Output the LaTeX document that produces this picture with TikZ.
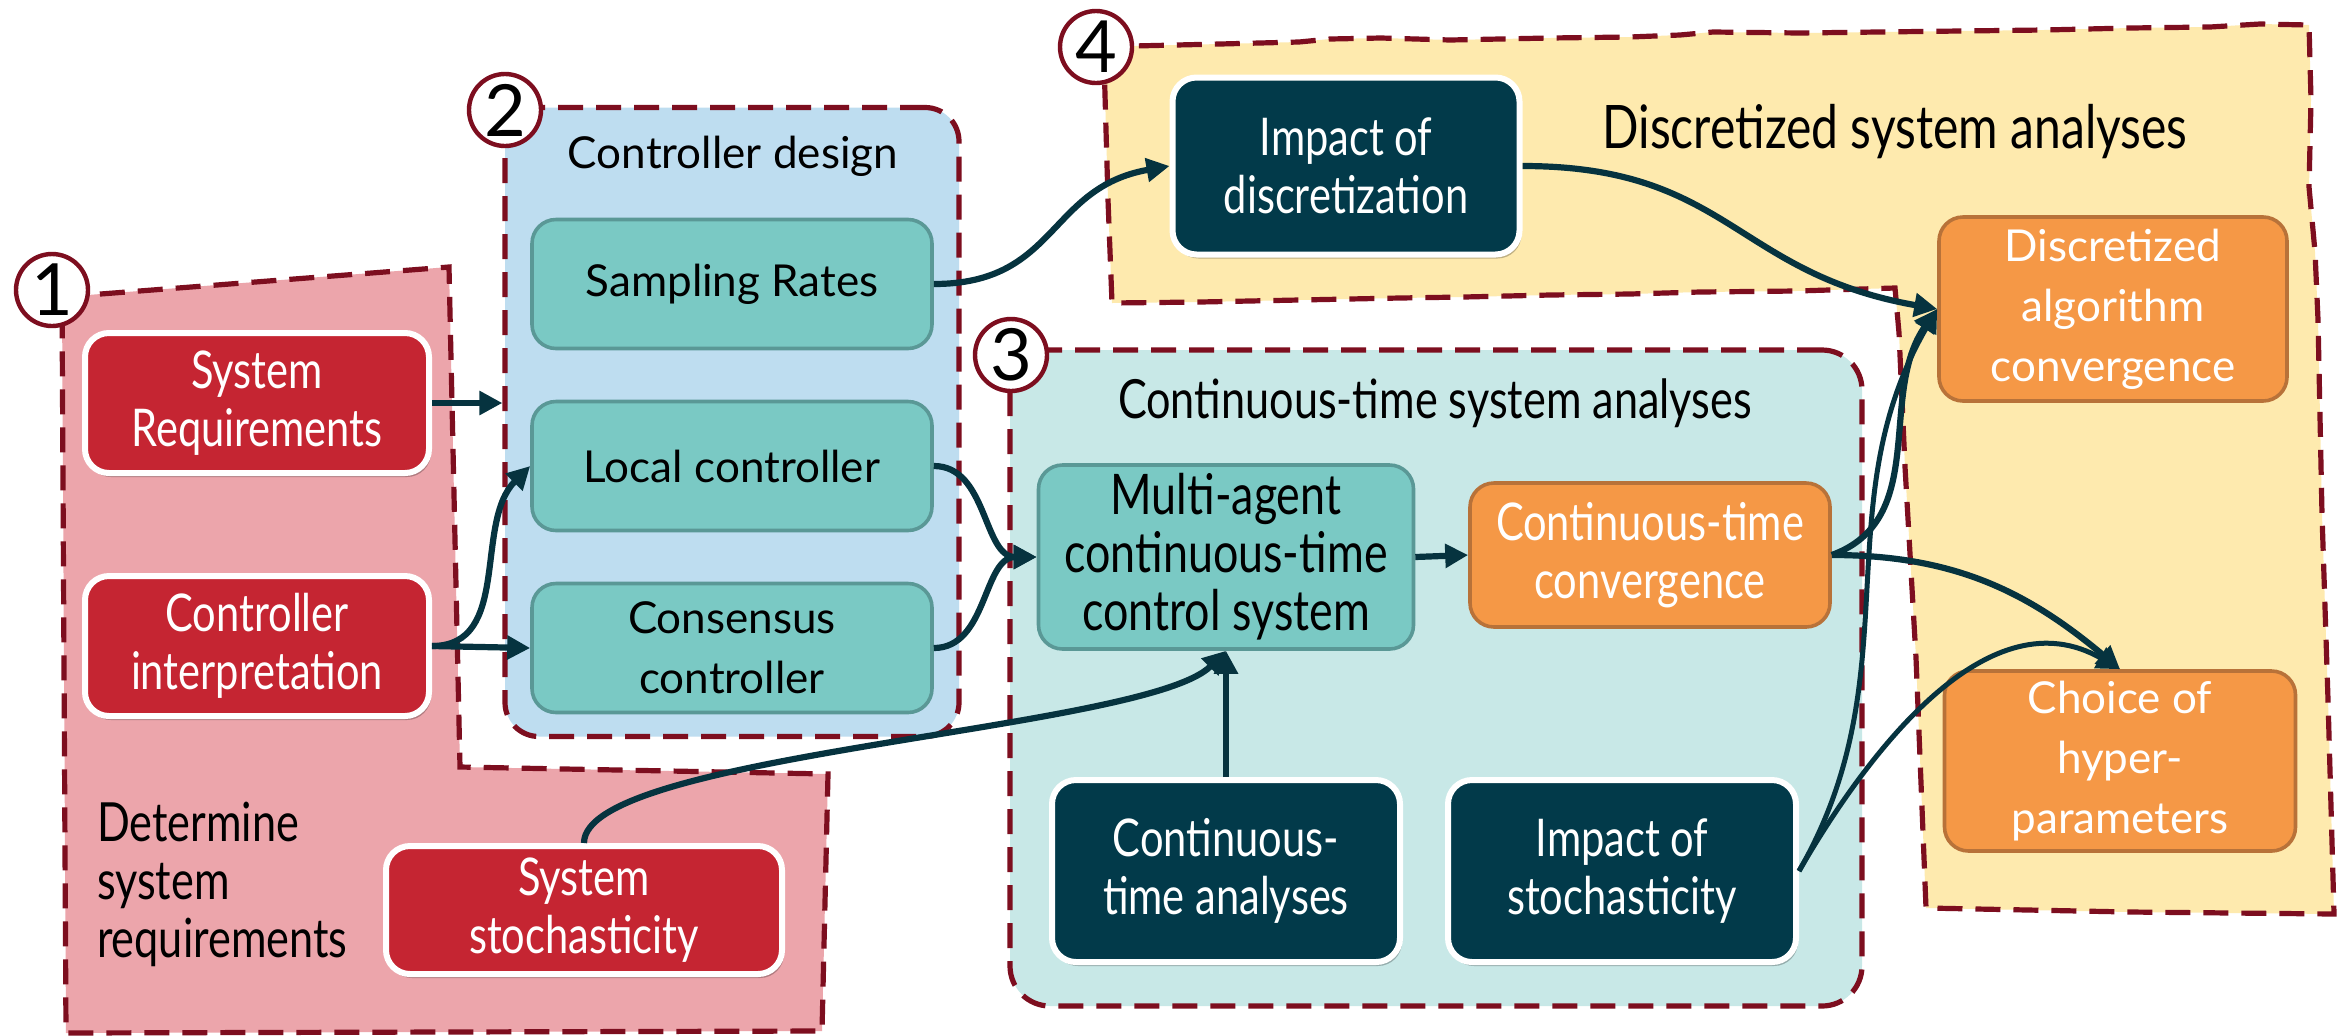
\documentclass[tikz,border=0pt]{standalone}
\usepackage{fontspec}
\setmainfont{Lato}
\newfontfamily\rfont{Lato}
\newfontfamily\cfont[FakeStretch=0.8]{Lato}
\usetikzlibrary{arrows.meta,shadows}
\definecolor{redfill}{HTML}{C52532}
\definecolor{pinkbg}{HTML}{ECA5AB}
\definecolor{bluebg}{HTML}{BEDDF0}
\definecolor{tealfill}{HTML}{7AC9C4}
\definecolor{tealdraw}{HTML}{5A9896}
\definecolor{regthreebg}{HTML}{C8E8E7}
\definecolor{darkfill}{HTML}{023A4A}
\definecolor{orangefill}{HTML}{F59846}
\definecolor{orangedraw}{HTML}{B87239}
\definecolor{yellowbg}{HTML}{FEEAAE}
\definecolor{maroon}{HTML}{7D0E1F}
\definecolor{arrowc}{HTML}{06333F}
\begin{document}
\begin{tikzpicture}[x=0.5pt,y=-0.5pt,
  region/.style={draw=maroon, line width=2.6pt, dash pattern=on 12.5pt off 6.5pt},
  box/.style={rounded corners=12pt, align=center, inner sep=0pt},
  shad/.style={drop shadow={shadow xshift=1pt, shadow yshift=-2pt, opacity=0.25, fill=black}},
  redbox/.style={box, shad, fill=redfill, draw=white, line width=3pt, text=white, font=\cfont\fontsize{26}{29}\selectfont},
  darkbox/.style={box, shad, fill=darkfill, draw=white, line width=3pt, text=white, font=\cfont\fontsize{26}{29}\selectfont},
  tealbox/.style={box, fill=tealfill, draw=tealdraw, line width=1.8pt, text=black, font=\rfont\fontsize{22}{30}\selectfont},
  tealboxc/.style={tealbox, font=\cfont\fontsize{28}{29}\selectfont},
  orangebox/.style={box, fill=orangefill, draw=orangedraw, line width=1.8pt, text=white, font=\rfont\fontsize{22}{30}\selectfont},
  orangeboxc/.style={orangebox, font=\cfont\fontsize{26}{29}\selectfont},
  circ/.style={circle, draw=maroon, fill=white, line width=2.2pt, minimum size=36pt, inner sep=0pt, font=\rfont\fontsize{36}{36}\selectfont},
  title/.style={font=\cfont\fontsize{27}{29}\selectfont, text=black},
  arr/.style={draw=arrowc, line width=3.1pt, -{Triangle[length=11.5pt,width=11.5pt]}}
]
\useasboundingbox (0,0) rectangle (2349,1035);
\fill[white] (0,0) rectangle (2349,1035);

% region 1
\draw[region, fill=pinkbg] (62,297) -- (449,267) -- (460,767) -- (828,774) -- (822,1031) -- (66,1033) -- cycle;
% region 4
\draw[region, fill=yellowbg] (1104,60) -- (1133,46) -- (1220,44) -- (1299,42) -- (1330,39) -- (1381,38) -- (1450,40) -- (1550,38) -- (1630,37) -- (1680,35) -- (1713,32) -- (1800,33) -- (1878,32) -- (1960,31) -- (2044,30) -- (2130,28) -- (2210,27) -- (2260,24) -- (2309,25)
  -- (2311,100) -- (2309,187) -- (2315,252) -- (2318,320) -- (2322,515) -- (2328,700) -- (2334,914)
  -- (2130,912) -- (1926,908)
  -- (1916,658) -- (1905,467) -- (1899,333) -- (1895,288)
  -- (1796,291) -- (1700,292) -- (1630,294) -- (1550,295) -- (1464,297) -- (1400,298) -- (1299,300) -- (1200,302) -- (1112,303)
  -- (1108,200) -- cycle;
% region 2 and 3
\node[region, fill=bluebg, rounded corners=17pt, minimum width=227pt, minimum height=314.5pt] (reg2) at (732,422) {};
\node[region, fill=regthreebg, rounded corners=20pt, minimum width=426pt, minimum height=328pt] (reg3) at (1436,678) {};

% circles
\node[circ] (c1) at (52,290) {1};
\node[circ] (c2) at (505,110) {2};
\node[circ] (c3) at (1011,355) {3};
\node[circ] (c4) at (1096,47) {4};

% titles
\node[title, font=\rfont\fontsize{22}{29}\selectfont] (t2) at (733,156) {Controller design};
\node[title] (t3) at (1435,403) {Continuous-time system analyses};
\node[title, font=\cfont\fontsize{30}{29}\selectfont] (t4) at (1895,132) {Discretized system analyses};
\node[title, anchor=west, align=left, font=\cfont\fontsize{27}{29}\selectfont] (t1) at (90,884) {Determine\\system\\requirements};

% boxes
\node[redbox, minimum width=172pt, minimum height=70pt] (sysreq) at (257,403) {System\\Requirements};
\node[redbox, minimum width=172pt, minimum height=70pt] (ctrlint) at (257,646) {Controller\\interpretation};
\node[redbox, minimum width=198pt, minimum height=64pt] (sysstoch) at (584,910) {System\\stochasticity};
\node[tealbox, minimum width=200pt, minimum height=64.5pt] (samp) at (732,284) {Sampling Rates};
\node[tealbox, minimum width=200pt, minimum height=64.5pt] (local) at (732,466) {Local controller};
\node[tealbox, minimum width=200pt, minimum height=64.5pt] (cons) at (732,648) {Consensus\\controller};
\node[tealboxc, minimum width=187.5pt, minimum height=92pt] (multi) at (1226,557) {Multi-agent\\continuous-time\\control system};
\node[orangeboxc, minimum width=180pt, minimum height=72pt] (ctconv) at (1650,555) {Continuous-time\\convergence};
\node[darkbox, minimum width=174pt, minimum height=91pt] (ctan) at (1226,871) {Continuous-\\time analyses};
\node[darkbox, minimum width=174pt, minimum height=91pt] (impstoch) at (1622,871) {Impact of\\stochasticity};
\node[darkbox, minimum width=173.5pt, minimum height=88.5pt] (impdisc) at (1346,166) {Impact of\\discretization};
\node[orangebox, minimum width=174pt, minimum height=92pt] (discconv) at (2113,309) {Discretized\\algorithm\\convergence};
\node[orangebox, minimum width=175.5pt, minimum height=90pt] (choice) at (2120,761) {Choice of\\hyper-\\parameters};

% arrows
\draw[arr] (sysreq.east) -- (sysreq.east -| reg2.west);
\draw[arr] (ctrlint.east) -- (cons.west);
\draw[arr] (ctrlint.east) to[out=0,in=225] (local.west);
\draw[arr] (samp.east) to[out=0,in=190,looseness=1.2] (impdisc.west);
\draw[arr] (local.east) to[out=0,in=180] (multi.west);
\draw[arr] (cons.east) to[out=0,in=180] (multi.west);
\draw[arr] (sysstoch.north) .. controls +(0,-90) and +(-80,80) .. (multi.south);
\draw[arr] (ctan.north) -- (multi.south);
\draw[arr] (multi.east) -- (ctconv.west);
\draw[arr] (impdisc.east) to[out=0,in=170,looseness=1.2] (discconv.west);
\draw[arr] (ctconv.east) to[out=20,in=235] (discconv.west);
\draw[arr] (ctconv.east) to[out=0,in=140] (choice.north);
\draw[arr, line width=2.5pt] (impstoch.east) to[out=60,in=240] (discconv.west);
\draw[arr, line width=2.5pt] (impstoch.east) to[out=60,in=150] (choice.north);
\end{tikzpicture}
\end{document}
